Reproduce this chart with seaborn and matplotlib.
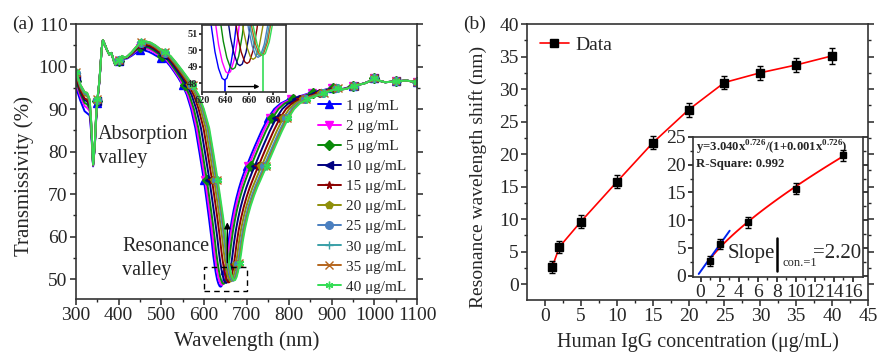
import numpy as np
import pandas as pd
import matplotlib
matplotlib.use("Agg")
import matplotlib.pyplot as plt
import seaborn as sns
from matplotlib.lines import Line2D
from matplotlib.patches import Rectangle

# ---------------- data ----------------
concentrations = [1, 2, 5, 10, 15, 20, 25, 30, 35, 40]
series_labels = [f"{c} μg/mL" for c in concentrations]
series_colors = ["#0000FF", "#FF00FF", "#0A8A0A", "#000080", "#8B0000",
                 "#8F8F0A", "#4A7FC0", "#3AA0A8", "#B5651D", "#33DD55"]
series_markers = ["^", "v", "D", "<", "*", "p", "o", "+", "x", (6, 2, 0)]

# resonance wavelength shift (panel b)
shift_nm = [2.6, 5.7, 9.6, 15.7, 21.7, 26.8, 31.0, 32.5, 33.7, 35.1]
shift_err = [0.9, 0.9, 0.95, 1.0, 1.0, 1.05, 1.05, 1.1, 1.1, 1.2]
# rise of resonance minimum relative to the 1 ug/mL curve
dip_rise = [0.0, 0.4, 0.65, 0.87, 1.0, 1.25, 1.37, 1.45, 1.5, 1.5]

# reference spectrum (1 ug/mL)
base_wl = [300, 310, 320, 326, 332, 336, 340, 344, 347, 350, 355, 360, 363, 367,
           372, 378, 383, 388, 392, 400, 408, 413, 420, 430, 440, 450, 460, 470,
           480, 490, 500, 510, 520, 530, 540, 550, 560, 570, 580, 590, 600, 606,
           612, 618, 622, 625, 628, 631, 634, 637, 639, 641, 644, 647, 650, 653,
           656, 660, 665, 670, 676, 682, 688, 694, 700, 710, 720, 735, 750, 765,
           780, 800, 825, 850, 875, 900, 915, 930, 950, 975, 990, 1000, 1010,
           1025, 1050, 1075, 1100]
base_T = [95.0, 92.0, 89.5, 89.0, 88.5, 84.0, 76.5, 81.0, 87.0, 91.5, 96.5, 104.0,
          106.2, 105.3, 104.0, 102.8, 103.2, 101.5, 100.3, 101.3, 102.2, 101.8,
          101.9, 102.5, 103.2, 103.8, 103.8, 103.5, 103.0, 102.4, 102.0, 101.4,
          100.2, 98.8, 97.3, 95.6, 93.3, 90.0, 85.5, 79.5, 73.2, 68.8, 64.2, 59.3,
          55.5, 53.3, 51.4, 49.9, 48.9, 48.3, 48.2, 48.3, 49.0, 50.3, 52.2, 54.6,
          57.3, 60.5, 63.6, 66.3, 69.0, 71.3, 73.3, 75.0, 76.5, 79.0, 81.4, 84.8,
          87.8, 90.0, 91.3, 92.3, 93.0, 93.8, 94.3, 95.0, 94.6, 94.8, 95.5, 96.0,
          96.6, 97.2, 96.7, 96.3, 96.5, 96.7, 96.3]
# how strongly each point follows the resonance shift / the dip rise
shift_weight = [0, 0, 0, 0, 0, 0, 0, 0, 0, 0, 0, 0, 0, 0, 0, 0, 0, 0, 0, 0, 0, 0, 0,
                0.03, 0.06, 0.1, 0.13, 0.17, 0.2, 0.25, 0.3, 0.37, 0.45, 0.55, 0.65,
                0.75, 0.85, 0.92, 1.0, 1.0, 1.0, 1.0, 1.0, 1.0, 1.0, 1.0, 1.0, 1.0,
                1.0, 1.0, 1.0, 1.0, 1.01, 1.02, 1.04, 1.06, 1.08, 1.12, 1.17, 1.22,
                1.28, 1.33, 1.38, 1.42, 1.45, 1.47, 1.48, 1.48, 1.47, 1.44, 1.38,
                1.3, 1.15, 1.0, 0.75, 0.45, 0.3, 0.2, 0.1, 0.05, 0, 0, 0, 0, 0, 0, 0]
rise_weight = [2.5, 2.5, 3.0, 3.2, 2.5, 1.5, 0.3, 0.5, 0.8, 0.5, 0.2, 0, 0, 0, 0, 0,
               0, 0, 0.1, 0.1, 0.2, 0.2, 0.3, 0.6, 1.0, 1.3, 1.4, 1.4, 1.3, 1.1, 0.9,
               0.7, 0.5, 0.3, 0.1, 0, 0, 0, 0, 0, 0, 0.2, 0.5, 0.8, 1.0, 1.0, 1.0,
               1.0, 1.0, 1.0, 1.0, 1.0, 1.0, 1.0, 1.0, 1.0, 1.0, 0.9, 0.8, 0.6, 0.4,
               0.2, 0, 0, 0, 0, 0, 0, 0, 0, 0, 0, 0, 0, 0, 0, 0, 0, 0, 0, 0, 0, 0, 0,
               0, 0, 0]

# inset (b)
inset_conc = [1, 2, 5, 10, 15]
inset_shift = [2.6, 5.7, 9.6, 15.7, 21.7]
inset_err = [0.9, 0.9, 0.95, 1.0, 1.0]
fit_a, fit_b, fit_c = 3.040, 0.726, 0.001
slope_line_x = [-0.2, 3.05]
slope_line_y = [0.3, 8.1]

# ---------------- style ----------------
sns.set_theme(style="ticks")
plt.rcParams["font.family"] = ["Liberation Serif", "DejaVu Serif"]
plt.rcParams["mathtext.fontset"] = "custom"
plt.rcParams["mathtext.rm"] = "Liberation Serif"
plt.rcParams["mathtext.bf"] = "Liberation Serif:bold"
plt.rcParams["axes.edgecolor"] = "#333333"
plt.rcParams["axes.linewidth"] = 1.2

fig = plt.figure(figsize=(8.77, 3.52), dpi=100)
axA = fig.add_axes([0.0867, 0.1506, 0.3888, 0.7812])
axB = fig.add_axes([0.601, 0.1477, 0.3887, 0.7841])
insA = fig.add_axes([0.2303, 0.7386, 0.0958, 0.1904])
insB = fig.add_axes([0.7902, 0.213, 0.1938, 0.3978])

bw = np.array(base_wl, float)
bT = np.array(base_T, float)
sw = np.array(shift_weight, float)
rw = np.array(rise_weight, float)
mark_idx = [i for i, w in enumerate(base_wl) if w % 50 == 0]

curves = []
for i in range(len(concentrations)):
    x = bw + (shift_nm[i] - shift_nm[0]) * sw
    y = bT + dip_rise[i] * rw
    curves.append((x, y))

for i, (x, y) in enumerate(curves):
    df = pd.DataFrame({"wl": x, "T": y})
    sns.lineplot(data=df, x="wl", y="T", ax=axA, color=series_colors[i],
                 linewidth=1.4, marker=series_markers[i], markersize=5.5,
                 markeredgecolor=series_colors[i], markeredgewidth=1.0,
                 markevery=mark_idx, estimator=None, sort=False,
                 label=series_labels[i])
    sns.lineplot(data=df, x="wl", y="T", ax=insA, color=series_colors[i],
                 linewidth=1.0, estimator=None, sort=False, legend=False)

axA.set_xlim(300, 1100)
axA.set_ylim(45.3, 110)
axA.set_xticks(range(300, 1101, 100))
axA.set_xticks(range(350, 1100, 100), minor=True)
axA.set_yticks(range(50, 111, 10))
axA.set_yticks(range(55, 110, 10), minor=True)
axA.set_xlabel("Wavelength (nm)", fontsize=15, labelpad=5)
axA.set_ylabel("Transmissivity (%)", fontsize=15, labelpad=2)
axA.yaxis.set_label_coords(-0.123, 0.449)
axA.tick_params(axis="both", which="major", labelsize=14, length=4, width=1.1,
                direction="out", pad=2)
axA.tick_params(axis="both", which="minor", length=2.5, width=1.0, direction="out")
axA.tick_params(axis="y", which="both", right=True)
axA.legend(loc="lower right", bbox_to_anchor=(1.0, -0.02), frameon=False,
           fontsize=11, labelspacing=0.42, handlelength=1.5,
           handletextpad=0.35, borderaxespad=0.3)

axA.add_patch(Rectangle((600, 47.2), 100, 5.7, fill=False, edgecolor="black",
                        linestyle=(0, (4, 3)), linewidth=1.0, zorder=5))
axA.annotate("", xy=(655, 64), xytext=(655, 53.2),
             arrowprops=dict(arrowstyle="-|>", color="black", lw=1.0,
                             mutation_scale=9), zorder=6)
axA.text(352, 84, "Absorption", fontsize=14.5, ha="left", va="center")
axA.text(352, 78.3, "valley", fontsize=14.5, ha="left", va="center")
axA.text(409, 57.6, "Resonance", fontsize=14.5, ha="left", va="center")
axA.text(409, 52.1, "valley", fontsize=14.5, ha="left", va="center")
fig.text(0.014, 0.932, "(a)", fontsize=14, ha="left", va="center")

# inset (a)
insA.set_xlim(620, 691)
insA.set_ylim(47.47, 51.53)
insA.set_xticks([620, 640, 660, 680])
insA.set_yticks([48, 49, 50, 51])
insA.set_xlabel("")
insA.set_ylabel("")
insA.tick_params(labelsize=7.5, length=2, pad=1)
for lab in insA.get_xticklabels() + insA.get_yticklabels():
    lab.set_fontweight("bold")
insA.plot([639.2, 639.2], [47.47, 48.2], color=series_colors[0], lw=1.2)
insA.plot([671.6, 671.6], [47.47, 49.7], color=series_colors[-1], lw=1.2)
insA.annotate("", xy=(671, 47.8), xytext=(640, 47.8),
              arrowprops=dict(arrowstyle="-|>", color="black", lw=1.0,
                              mutation_scale=6))

# ---------------- panel (b) ----------------
sns.lineplot(x=concentrations, y=shift_nm, ax=axB, color="red", linewidth=1.2,
             estimator=None, sort=False, legend=False)
axB.errorbar(concentrations, shift_nm, yerr=shift_err, fmt="s", color="black",
             markersize=6, capsize=2.5, elinewidth=1.0, capthick=1.0, zorder=4)
axB.set_xlim(-2.5, 45)
axB.set_ylim(-2.46, 40)
axB.set_xticks(range(0, 46, 5))
axB.set_xticks(np.arange(2.5, 45, 5), minor=True)
axB.set_yticks(range(0, 41, 5))
axB.set_yticks(np.arange(2.5, 40, 5), minor=True)
axB.set_xlabel("Human IgG concentration (μg/mL)", fontsize=14.5, labelpad=5)
axB.set_ylabel("Resonance wavelength shift (nm)", fontsize=14)
axB.yaxis.set_label_coords(-0.117, 0.447)
axB.tick_params(axis="both", which="major", labelsize=14, length=4, width=1.1,
                direction="out", pad=2)
axB.tick_params(axis="both", which="minor", length=2.5, width=1.0, direction="out")
axB.tick_params(axis="y", which="both", right=True)
h = Line2D([], [], color="red", lw=1.2, marker="s", markersize=6,
           markerfacecolor="black", markeredgecolor="black")
axB.legend([h], ["Data"], loc="upper left", frameon=False, fontsize=14,
           handlelength=1.5, handletextpad=0.35, borderaxespad=0.25)
fig.text(0.528, 0.932, "(b)", fontsize=14, ha="left", va="center")

# inset (b)
xf = np.linspace(0.9, 15, 120)
yf = fit_a * xf ** fit_b / (1 + fit_c * xf ** fit_b)
sns.lineplot(x=xf, y=yf, ax=insB, color="red", linewidth=1.3, estimator=None,
             sort=False, legend=False)
sns.lineplot(x=slope_line_x, y=slope_line_y, ax=insB, color="#0022EE",
             linewidth=1.4, estimator=None, sort=False, legend=False)
insB.errorbar(inset_conc, inset_shift, yerr=inset_err, fmt="s", color="black",
              markersize=4.5, capsize=2, elinewidth=1.0, capthick=1.0, zorder=4)
insB.set_xlim(-0.8, 17.05)
insB.set_ylim(-0.25, 25)
insB.set_xticks(range(0, 17, 2))
insB.set_xticks(range(1, 17, 2), minor=True)
insB.set_yticks(range(0, 26, 5))
insB.set_yticks(np.arange(2.5, 25, 5), minor=True)
insB.tick_params(axis="both", which="major", labelsize=14, length=3.5, pad=1.5)
insB.tick_params(axis="both", which="minor", length=2)
insB.tick_params(axis="y", which="both", right=True)
insB.set_xlabel("")
insB.set_ylabel("")
insB.text(0.018, 0.925,
          r"y=3.040x$^{\mathbf{0.726}}$/(1+0.001x$^{\mathbf{0.726}}$)",
          transform=insB.transAxes, fontsize=9.2, fontweight="bold",
          ha="left", va="center")
insB.text(0.018, 0.81, "R-Square: 0.992", transform=insB.transAxes,
          fontsize=9.2, fontweight="bold", ha="left", va="center")
insB.text(0.205, 0.165, "Slope", transform=insB.transAxes, fontsize=15,
          ha="left", va="center")
insB.plot([0.497, 0.497], [0.04, 0.28], transform=insB.transAxes,
          color="black", lw=1.8)
insB.text(0.525, 0.1, "con.=1", transform=insB.transAxes, fontsize=9,
          ha="left", va="center")
insB.text(0.705, 0.165, "=2.20", transform=insB.transAxes, fontsize=15,
          ha="left", va="center")

fig.savefig("out.png", dpi=100)
